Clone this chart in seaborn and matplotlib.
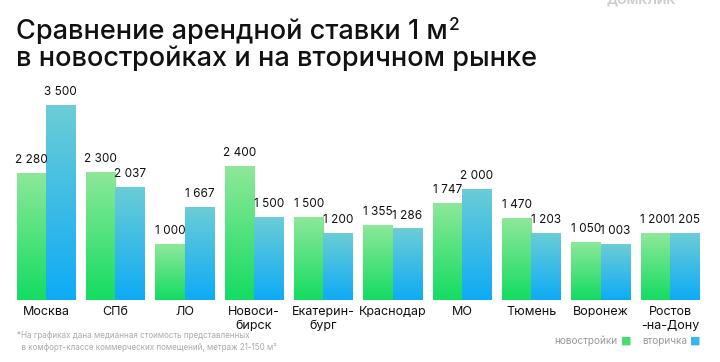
import matplotlib
matplotlib.use("Agg")
import matplotlib.pyplot as plt
import numpy as np
import pandas as pd
import seaborn as sns
from matplotlib.colors import LinearSegmentedColormap

# ── data ──────────────────────────────────────────────────────────────────────
cities = ["Москва", "СПб", "ЛО", "Новоси-\nбирск", "Екатерин-\nбург",
          "Краснодар", "МО", "Тюмень", "Воронеж", "Ростов\n-на-Дону"]
new_build = [2280, 2300, 1000, 2400, 1500, 1355, 1747, 1470, 1050, 1200]
secondary = [3500, 2037, 1667, 1500, 1200, 1286, 2000, 1203, 1003, 1205]
series = ["новостройки", "вторичка"]

# gradient (top colour, bottom colour)
grad = {
    "новостройки": ("#8ee89a", "#14dc62"),
    "вторичка":    ("#6ccdd6", "#0eabf6"),
}
legend_sq = {"новостройки": "#45dd6e", "вторичка": "#3bb6ec"}

df = pd.DataFrame({
    "city": cities * 2,
    "kind": [series[0]] * len(cities) + [series[1]] * len(cities),
    "value": new_build + secondary,
})

# ── figure ────────────────────────────────────────────────────────────────────
sns.set_style("white")
plt.rcParams["font.family"] = ["Inter", "DejaVu Sans"]

fig = plt.figure(figsize=(7.2, 3.62), dpi=100)
ax = fig.add_axes([0.0158, 0.171, 0.963, 0.594])

sns.barplot(data=df, x="city", y="value", hue="kind", hue_order=series,
            order=cities, width=0.85, ax=ax, legend=False,
            palette=[legend_sq[s] for s in series], edgecolor="none")
ax.set_ylim(0, 3860)
ax.set_xlim(-0.5, len(cities) - 0.5)

# paint gradients into the bars
for container, kind in zip(ax.containers, series):
    cmap = LinearSegmentedColormap.from_list(kind, [grad[kind][1], grad[kind][0]])
    for bar in container:
        x0, y0 = bar.get_x(), bar.get_y()
        w, h = bar.get_width(), bar.get_height()
        bar.set_facecolor("none")
        img = ax.imshow(np.linspace(0, 1, 256).reshape(-1, 1), cmap=cmap,
                        extent=[x0, x0 + w, y0, y0 + h], origin="lower",
                        aspect="auto", zorder=2)
        img.set_clip_path(bar)
    ax.bar_label(container, labels=[f"{int(v):,}".replace(",", " ")
                                    for v in container.datavalues],
                 padding=5, fontsize=8.5, color="#111111")
ax.set_aspect("auto")

ax.set_xlabel("")
ax.set_ylabel("")
ax.set_yticks([])
ax.tick_params(axis="x", length=0, pad=4, labelsize=9, labelcolor="#111111")
for lbl in ax.get_xticklabels():
    lbl.set_linespacing(1.3)
sns.despine(ax=ax, left=True, bottom=True)

# ── texts ─────────────────────────────────────────────────────────────────────
t1 = fig.text(0.022, 0.893, "Сравнение арендной ставки 1 м", fontsize=19.5,
              fontweight="medium", color="#111111", va="baseline")
fig.text(0.022, 0.817, "в новостройках и на вторичном рынке", fontsize=19.5,
         fontweight="medium", color="#111111", va="baseline")
fig.canvas.draw()
bb = t1.get_window_extent(fig.canvas.get_renderer())
fig.text(bb.x1 / fig.bbox.width + 0.002, 0.917, "2", fontsize=12.5,
         fontweight="medium", color="#111111", va="baseline")

fig.text(0.89, 1.0, "ДОМКЛИК", fontsize=9, color="#cccccc", ha="center",
         va="center", fontweight="bold")

fig.text(0.024, 0.057, "*На графиках дана медианная стоимость представленных\n"
         "  в комфорт-классе коммерческих помещений, метраж 21-150 м²",
         fontsize=5.8, color="#aaaaaa", va="center", linespacing=1.5)

ly = 0.058
fig.text(0.857, ly, "новостройки", fontsize=7.2, color="#999999",
         ha="right", va="center")
fig.text(0.862, ly, "■", fontsize=8, color=legend_sq["новостройки"],
         ha="left", va="center", family="DejaVu Sans")
fig.text(0.892, ly, "вторичка", fontsize=7.2, color="#999999",
         ha="left", va="center")
fig.text(0.959, ly, "■", fontsize=8, color=legend_sq["вторичка"],
         ha="left", va="center", family="DejaVu Sans")

fig.savefig("out.png", dpi=100)
